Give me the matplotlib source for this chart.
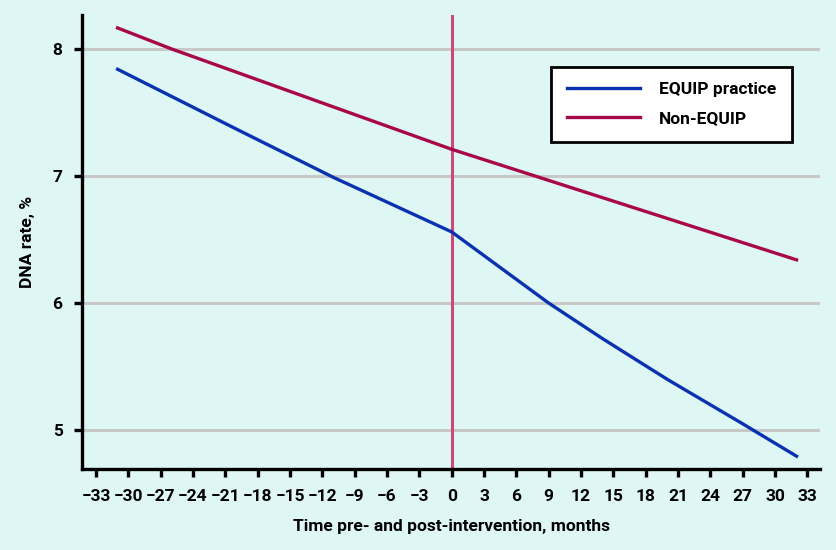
import matplotlib.pyplot as plt

# months relative to intervention, DNA rate %
equip_months = [-31, -20, -11, 0, 9, 14, 20, 27, 32]
equip_rate = [7.84, 7.37, 6.99, 6.56, 6.00, 5.72, 5.40, 5.05, 4.795]

non_months = [-31, -26, 0, 32]
non_rate = [8.165, 8.00, 7.21, 6.34]

xticks = list(range(-33, 34, 3))
yticks = [5, 6, 7, 8]

bg = "#dff7f4"
plt.rcParams["font.family"] = ["Roboto", "DejaVu Sans"]
plt.rcParams["font.weight"] = "bold"

fig = plt.figure(figsize=(8.37, 5.5), dpi=100, facecolor=bg)
ax = fig.add_axes([0.098, 0.147, 0.882, 0.826])
ax.set_facecolor(bg)

for y in yticks:
    ax.axhline(y, color="#c8c8c8", lw=2.2, zorder=1)
ax.axvline(0, color="#cc4a7a", lw=2.2, zorder=2)

ax.plot(equip_months, equip_rate, color="#0a32b0", lw=2.4, label="EQUIP practice", zorder=3)
ax.plot(non_months, non_rate, color="#a8084a", lw=2.4, label="Non-EQUIP", zorder=3)

ax.set_xlim(-34.3, 34.2)
ax.set_ylim(4.693, 8.268)
ax.set_xticks(xticks)
ax.set_xticklabels([str(t).replace("-", "\u2212") for t in xticks])
ax.set_yticks(yticks)

for s in ["top", "right"]:
    ax.spines[s].set_visible(False)
for s in ["left", "bottom"]:
    ax.spines[s].set_linewidth(2.4)
ax.tick_params(axis="both", length=6, width=2.4, labelsize=12.5, pad=8)

ax.set_xlabel("Time pre- and post-intervention, months", fontsize=12.5, fontweight="bold", labelpad=11)
ax.set_ylabel("DNA rate, %", fontsize=12.5, fontweight="bold", labelpad=13)

leg = ax.legend(loc="upper right", bbox_to_anchor=(0.973, 0.905), fontsize=12.5,
                handlelength=4.2, handletextpad=1.1, borderpad=0.9, labelspacing=0.8,
                frameon=True, fancybox=False, edgecolor="black", facecolor="white",
                framealpha=1)
leg.get_frame().set_linewidth(2.0)

fig.savefig("out.png", dpi=100, facecolor=bg)
